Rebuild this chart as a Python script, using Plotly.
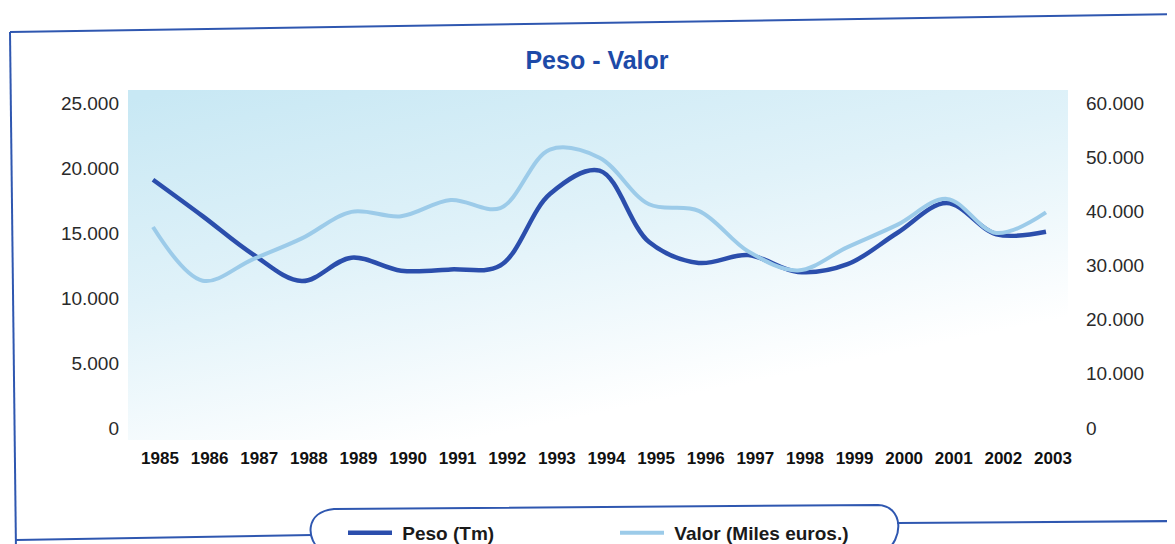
import base64
import plotly.graph_objects as go

# ---------------- data ----------------
years = list(range(1985, 2004))
year_labels = [str(y) for y in years]
peso_tm = [19100, 16300, 13400, 11300, 13100, 12100, 12200, 12500, 18000, 19800,
           14300, 12700, 13300, 12000, 12600, 15000, 17300, 14900, 15100]
valor_miles_eur = [37100, 27200, 31100, 35000, 39900, 39100, 42100, 40600, 51400, 49900,
                   41300, 40100, 32600, 29100, 33400, 37500, 42300, 36000, 39800]
peso_ticks = [0, 5000, 10000, 15000, 20000, 25000]
valor_ticks = [0, 10000, 20000, 30000, 40000, 50000, 60000]
title_text = "Peso - Valor"
peso_name = "\u00a0Peso (Tm)"
valor_name = "\u00a0Valor (Miles euros.)"

# ---------------- layout constants (screen pixels) ----------------
OFF = 8                      # page body margin around the figure
FW, FH = 1175, 544
PL, PR, PT, PB = 128, 1068, 90, 440   # plot area in screen pixels
PW, PH = PR - PL, PB - PT
X_RANGE = [1984.496, 2003.444]
Y_RANGE = [-923, 26000]
Y2_RANGE = [v * 2.4 for v in Y_RANGE]

DARK = "#2b4eac"
LIGHT = "#9ccbe9"
FRAME = "#2f57b0"
SANS = "Liberation Sans, Arial, sans-serif"


def px_x(x):
    return (x - PL) / PW


def px_y(y):
    return (PB - y) / PH


def cont_x(x):
    return (x - OFF) / FW


def cont_y(y):
    return 1 - (y - OFF) / FH


def path(points_cmds):
    out = []
    for cmd, pts in points_cmds:
        coords = " ".join(f"{px_x(x):.5f},{px_y(y):.5f}" for x, y in pts)
        out.append(f"{cmd} {coords}")
    return " ".join(out)


fig = go.Figure()
fig.add_trace(go.Scatter(
    x=years, y=peso_tm, name=peso_name, mode="lines",
    line=dict(color=DARK, width=4.5, shape="spline", smoothing=1),
    yaxis="y", legend="legend", hoverinfo="x+y"))
fig.add_trace(go.Scatter(
    x=years, y=valor_miles_eur, name=valor_name, mode="lines",
    line=dict(color=LIGHT, width=4, shape="spline", smoothing=1),
    yaxis="y2", legend="legend2", hoverinfo="x+y"))

svg = (
    f'<svg xmlns="http://www.w3.org/2000/svg" width="{PW}" height="{PH}" '
    f'viewBox="0 0 {PW} {PH}" preserveAspectRatio="none"><defs>'
    '<linearGradient id="g" x1="0.05" y1="0" x2="0.6" y2="1">'
    '<stop offset="0" stop-color="#c8e8f4"/>'
    '<stop offset="0.45" stop-color="#e0f2f9"/>'
    '<stop offset="0.9" stop-color="#ffffff"/>'
    '</linearGradient></defs>'
    f'<rect width="{PW}" height="{PH}" fill="url(#g)"/></svg>'
)
bg_src = "data:image/svg+xml;base64," + base64.b64encode(svg.encode()).decode()

tick_font_y = dict(family=SANS, size=19, color="#2a2a2a")

shapes = []
frame_lines = [((10, 32), (1185, 14)),
               ((10, 32), (16, 552)),
               ((16, 540), (312, 535)),
               ((897, 523), (1185, 521))]
for (x0, y0), (x1, y1) in frame_lines:
    shapes.append(dict(type="line", xref="paper", yref="paper",
                       x0=px_x(x0), y0=px_y(y0), x1=px_x(x1), y1=px_y(y1),
                       line=dict(color=FRAME, width=2)))
legend_box = path([
    ("M", [(322, 552)]),
    ("C", [(306, 540), (304, 512), (334, 509)]),
    ("L", [(878, 505)]),
    ("C", [(904, 506), (904, 540), (884, 552)]),
])
shapes.append(dict(type="path", xref="paper", yref="paper", path=legend_box,
                   line=dict(color=FRAME, width=2)))

legend_common = dict(orientation="h", xref="paper", xanchor="left",
                     yref="container", y=cont_y(533), yanchor="middle",
                     itemwidth=44, bgcolor="rgba(0,0,0,0)", borderwidth=0,
                     font=dict(family=SANS, size=19, color="#1a1a1a", weight="bold"))

fig.update_layout(
    width=FW, height=FH,
    margin=dict(l=PL - OFF, r=FW - (PR - OFF), t=PT - OFF, b=FH - (PB - OFF),
                autoexpand=False),
    paper_bgcolor="white", plot_bgcolor="rgba(0,0,0,0)",
    separators=",.",
    showlegend=True,
    title=dict(text=title_text, x=cont_x(597), xref="container", xanchor="center",
               y=cont_y(60), yref="container", yanchor="middle",
               font=dict(family=SANS, size=25, color="#1d4aa8", weight="bold")),
    xaxis=dict(range=X_RANGE, tickvals=years, ticktext=year_labels,
               showgrid=False, zeroline=False, showline=False, ticks="",
               tickangle=0, ticklabelshift=7, ticklabelstandoff=6,
               tickfont=dict(family=SANS, size=17, color="#111", weight="bold")),
    yaxis=dict(range=Y_RANGE, tickvals=peso_ticks, tickformat=",d",
               showgrid=False, zeroline=False, showline=False, ticks="",
               ticklabelstandoff=8, tickfont=tick_font_y),
    yaxis2=dict(range=Y2_RANGE, tickvals=valor_ticks, tickformat=",d",
                overlaying="y", side="right",
                showgrid=False, zeroline=False, showline=False, ticks="",
                ticklabelstandoff=17, tickfont=tick_font_y),
    legend=dict(x=px_x(343), **legend_common),
    legend2=dict(x=px_x(615), **legend_common),
    images=[dict(source=bg_src, xref="paper", yref="paper", x=0, y=1,
                 sizex=1, sizey=1, xanchor="left", yanchor="top",
                 sizing="stretch", layer="below")],
    shapes=shapes,
)

fig.write_html("out.html")
